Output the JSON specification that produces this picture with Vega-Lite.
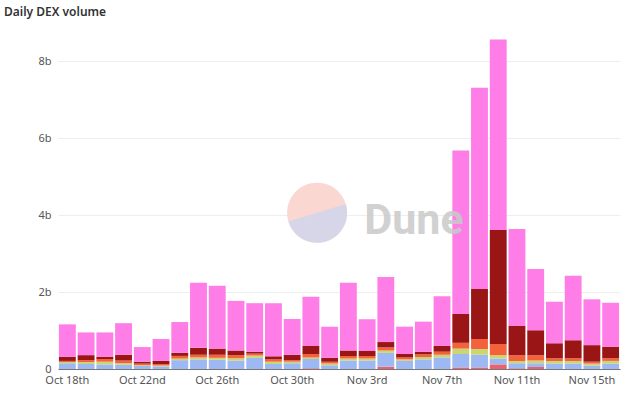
{
  "$schema": "https://vega.github.io/schema/vega-lite/v6.json",
  "width": 562,
  "height": 331,
  "autosize": {"type": "none"},
  "padding": {"left": 58, "top": 38, "right": 4, "bottom": 26},
  "background": "white",
  "title": {"text": "Daily DEX volume", "anchor": "start", "frame": "group", "dx": -54, "offset": 10, "baseline": "alphabetic", "fontSize": 12, "fontWeight": 600, "color": "#333333", "font": "Noto Sans"},
  "config": {"view": {"stroke": null}, "font": "Noto Sans"},
  "datasets": {
    "volume": [
      {"day": "Oct 18th", "s1": 0, "s2": 0.15, "s3": 0.03, "s4": 0.03, "s5": 0.11, "s6": 0.84},
      {"day": "Oct 19th", "s1": 0, "s2": 0.13, "s3": 0.05, "s4": 0.05, "s5": 0.13, "s6": 0.59},
      {"day": "Oct 20th", "s1": 0, "s2": 0.12, "s3": 0.07, "s4": 0.07, "s5": 0.06, "s6": 0.63},
      {"day": "Oct 21st", "s1": 0, "s2": 0.11, "s3": 0.04, "s4": 0.07, "s5": 0.15, "s6": 0.82},
      {"day": "Oct 22nd", "s1": 0, "s2": 0.08, "s3": 0.02, "s4": 0.04, "s5": 0.05, "s6": 0.38},
      {"day": "Oct 23rd", "s1": 0, "s2": 0.07, "s3": 0.02, "s4": 0.04, "s5": 0.08, "s6": 0.57},
      {"day": "Oct 24th", "s1": 0, "s2": 0.23, "s3": 0.04, "s4": 0.07, "s5": 0.08, "s6": 0.80},
      {"day": "Oct 25th", "s1": 0, "s2": 0.25, "s3": 0.05, "s4": 0.07, "s5": 0.18, "s6": 1.69},
      {"day": "Oct 26th", "s1": 0, "s2": 0.24, "s3": 0.05, "s4": 0.08, "s5": 0.16, "s6": 1.63},
      {"day": "Oct 27th", "s1": 0, "s2": 0.22, "s3": 0.06, "s4": 0.08, "s5": 0.12, "s6": 1.29},
      {"day": "Oct 28th", "s1": 0, "s2": 0.29, "s3": 0.06, "s4": 0.05, "s5": 0.05, "s6": 1.26},
      {"day": "Oct 29th", "s1": 0, "s2": 0.13, "s3": 0.06, "s4": 0.06, "s5": 0.08, "s6": 1.38},
      {"day": "Oct 30th", "s1": 0, "s2": 0.15, "s3": 0.04, "s4": 0.04, "s5": 0.14, "s6": 0.93},
      {"day": "Oct 31st", "s1": 0.02, "s2": 0.24, "s3": 0.04, "s4": 0.09, "s5": 0.21, "s6": 1.28},
      {"day": "Nov 1st", "s1": 0, "s2": 0.10, "s3": 0.04, "s4": 0.05, "s5": 0.10, "s6": 0.81},
      {"day": "Nov 2nd", "s1": 0, "s2": 0.22, "s3": 0.05, "s4": 0.07, "s5": 0.14, "s6": 1.76},
      {"day": "Nov 3rd", "s1": 0, "s2": 0.22, "s3": 0.05, "s4": 0.07, "s5": 0.13, "s6": 0.82},
      {"day": "Nov 4th", "s1": 0.06, "s2": 0.36, "s3": 0.06, "s4": 0.08, "s5": 0.14, "s6": 1.69},
      {"day": "Nov 5th", "s1": 0, "s2": 0.21, "s3": 0.04, "s4": 0.05, "s5": 0.09, "s6": 0.71},
      {"day": "Nov 6th", "s1": 0, "s2": 0.25, "s3": 0.06, "s4": 0.07, "s5": 0.07, "s6": 0.78},
      {"day": "Nov 7th", "s1": 0, "s2": 0.30, "s3": 0.07, "s4": 0.08, "s5": 0.15, "s6": 1.29},
      {"day": "Nov 8th", "s1": 0.04, "s2": 0.35, "s3": 0.14, "s4": 0.15, "s5": 0.75, "s6": 4.25},
      {"day": "Nov 9th", "s1": 0.04, "s2": 0.33, "s3": 0.15, "s4": 0.26, "s5": 1.30, "s6": 5.23},
      {"day": "Nov 10th", "s1": 0.12, "s2": 0.15, "s3": 0.09, "s4": 0.29, "s5": 2.96, "s6": 4.95},
      {"day": "Nov 11th", "s1": 0.02, "s2": 0.13, "s3": 0.06, "s4": 0.15, "s5": 0.76, "s6": 2.52},
      {"day": "Nov 12th", "s1": 0.05, "s2": 0.10, "s3": 0.07, "s4": 0.14, "s5": 0.65, "s6": 1.59},
      {"day": "Nov 13th", "s1": 0, "s2": 0.14, "s3": 0.07, "s4": 0.07, "s5": 0.39, "s6": 1.08},
      {"day": "Nov 14th", "s1": 0, "s2": 0.14, "s3": 0.07, "s4": 0.07, "s5": 0.47, "s6": 1.67},
      {"day": "Nov 15th", "s1": 0, "s2": 0.09, "s3": 0.05, "s4": 0.05, "s5": 0.43, "s6": 1.19},
      {"day": "Nov 16th", "s1": 0, "s2": 0.14, "s3": 0.07, "s4": 0.07, "s5": 0.30, "s6": 1.14}
    ],
    "logo": [{"x": 0.461, "y": 0.472, "tx": 0.545, "ty": 0.408, "label": "Dune"}]
  },
  "layer": [
    {
      "data": {"name": "volume"},
      "transform": [{"fold": ["s1", "s2", "s3", "s4", "s5", "s6"], "as": ["series", "volume"]}],
      "mark": {"type": "bar"},
      "encoding": {
        "x": {
          "field": "day", "type": "ordinal", "sort": null,
          "scale": {"paddingInner": 0.1, "paddingOuter": 0.05},
          "axis": {"title": null, "values": ["Oct 18th", "Oct 22nd", "Oct 26th", "Oct 30th", "Nov 3rd", "Nov 7th", "Nov 11th", "Nov 15th"], "labelAngle": 0, "ticks": false, "domainColor": "#777777", "labelColor": "#555555", "labelFontSize": 11, "labelPadding": 5, "grid": false}
        },
        "y": {
          "field": "volume", "type": "quantitative", "stack": "zero",
          "scale": {"domain": [0, 8.6], "nice": false},
          "axis": {"title": null, "values": [0, 2, 4, 6, 8], "labelExpr": "datum.value == 0 ? '0' : datum.value + 'b'", "domain": false, "ticks": false, "labelPadding": 7, "labelColor": "#555555", "labelFontSize": 11, "gridColor": "#eeeeee"}
        },
        "color": {
          "field": "series", "type": "nominal",
          "scale": {"domain": ["s1", "s2", "s3", "s4", "s5", "s6"], "range": ["#e8636e", "#9db8f3", "#cad66f", "#f4623c", "#9a1616", "#fe7de6"]},
          "legend": null
        },
        "order": {"field": "series", "sort": "ascending"}
      }
    },
    {
      "data": {"name": "logo"},
      "mark": {"type": "point", "shape": "M -1 0 A 1 1 0 1 0 1 0 A 1 1 0 1 0 -1 0 Z", "filled": true, "size": 3600, "color": "#f9d3cb", "opacity": 0.9, "strokeWidth": 0},
      "encoding": {
        "x": {"field": "x", "type": "quantitative", "scale": {"domain": [0, 1]}, "axis": null},
        "y": {"field": "y", "type": "quantitative", "scale": {"domain": [0, 1]}, "axis": null}
      }
    },
    {
      "data": {"name": "logo"},
      "mark": {"type": "point", "shape": "M -1 0 A 1 1 0 0 0 1 0 Z", "filled": true, "size": 3600, "color": "#d5d6ea", "opacity": 0.95, "strokeWidth": 0, "angle": -17},
      "encoding": {
        "x": {"field": "x", "type": "quantitative", "scale": {"domain": [0, 1]}, "axis": null},
        "y": {"field": "y", "type": "quantitative", "scale": {"domain": [0, 1]}, "axis": null}
      }
    },
    {
      "data": {"name": "logo"},
      "mark": {"type": "text", "align": "left", "baseline": "alphabetic", "fontSize": 43, "fontWeight": "bold", "color": "#c9c9c9", "opacity": 0.85, "font": "Roboto"},
      "encoding": {
        "x": {"field": "tx", "type": "quantitative", "scale": {"domain": [0, 1]}, "axis": null},
        "y": {"field": "ty", "type": "quantitative", "scale": {"domain": [0, 1]}, "axis": null},
        "text": {"field": "label"}
      }
    }
  ],
  "resolve": {"scale": {"x": "independent", "y": "independent"}}
}
